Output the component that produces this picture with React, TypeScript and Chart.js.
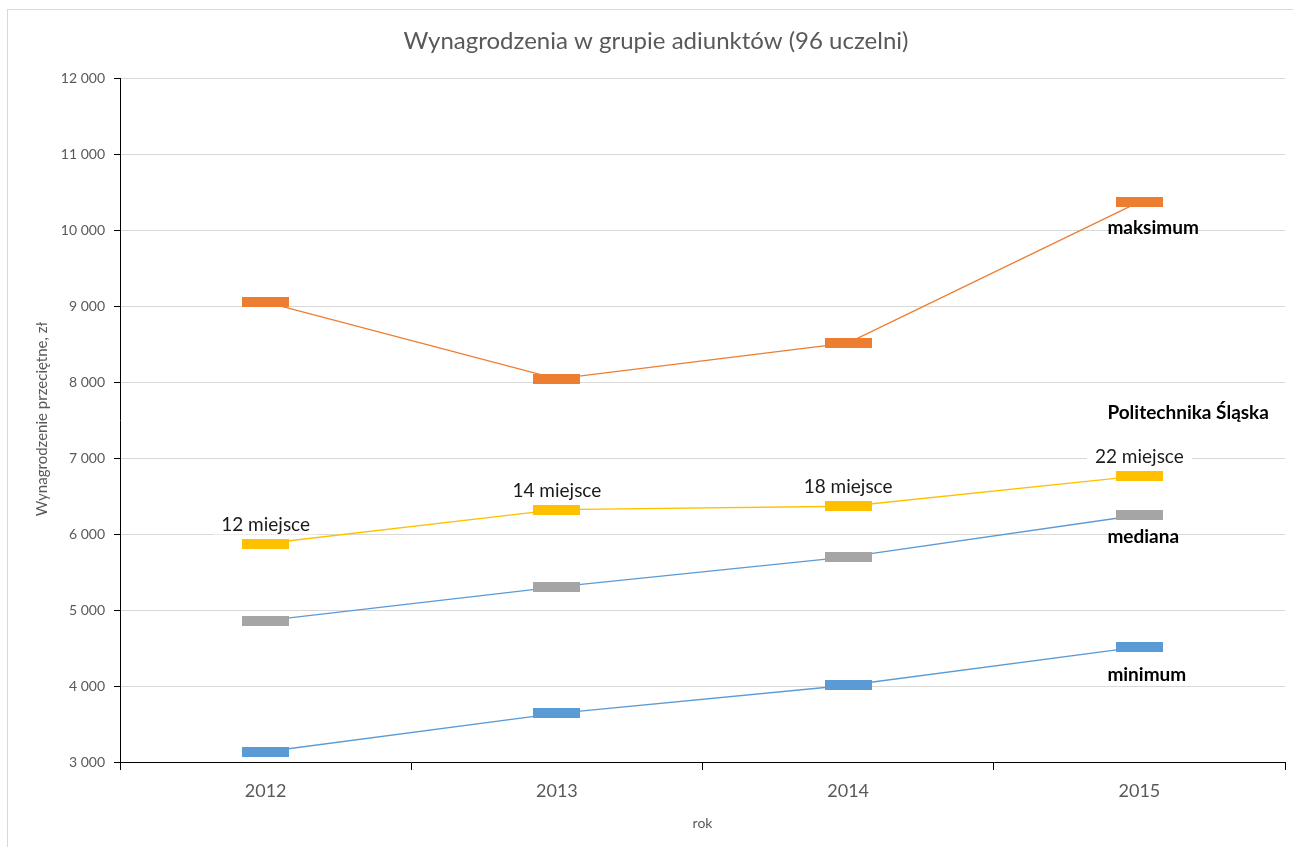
import React, { useEffect, useRef } from "react";
import { Chart, registerables } from "chart.js";

Chart.register(...registerables);

const years = ["2012", "2013", "2014", "2015"];
const maksimum = [9050, 8040, 8515, 10370];
const politechnika = [5875, 6320, 6365, 6765];
const mediana = [4860, 5305, 5700, 6250];
const minimum = [3135, 3640, 4010, 4515];
const rankLabels = ["12 miejsce", "14 miejsce", "18 miejsce", "22 miejsce"];
const seriesNames = ["maksimum", "Politechnika Śląska", "mediana", "minimum"];
const titleText = "Wynagrodzenia w grupie adiunktów (96 uczelni)";
const yTitle = "Wynagrodzenie przeciętne, zł";
const xTitle = "rok";
const yMin = 3000;
const yMax = 12000;
const yStep = 1000;

const FONT = "Lato, 'Open Sans', sans-serif";

function makeMarker(color: string): HTMLCanvasElement {
  const c = document.createElement("canvas");
  c.width = 47;
  c.height = 10;
  const ctx = c.getContext("2d")!;
  ctx.fillStyle = color;
  ctx.fillRect(0, 0, 47, 10);
  return c;
}

const annotationPlugin = {
  id: "annotations",
  beforeDraw(chart: any) {
    const ctx = chart.ctx;
    ctx.save();
    ctx.fillStyle = "#ffffff";
    ctx.fillRect(0, 0, chart.width, chart.height);
    ctx.strokeStyle = "#D9D9D9";
    ctx.lineWidth = 1;
    ctx.strokeRect(7.5, 9.5, 1300, 850);
    ctx.restore();
  },
  afterDraw(chart: any) {
    const ctx = chart.ctx;
    const xs = chart.scales.x;
    const ys = chart.scales.y;
    const area = chart.chartArea;
    ctx.save();
    // title
    ctx.fillStyle = "#595959";
    ctx.font = `24px ${FONT}`;
    ctx.textAlign = "center";
    ctx.textBaseline = "middle";
    ctx.fillText(titleText, 656, 41);
    // axis titles
    ctx.font = `14px ${FONT}`;
    ctx.fillStyle = "#595959";
    ctx.fillText(xTitle, (area.left + area.right) / 2, 823);
    ctx.save();
    ctx.font = `15px ${FONT}`;
    ctx.translate(42, 419);
    ctx.rotate(-Math.PI / 2);
    ctx.fillText(yTitle, 0, 0);
    ctx.restore();

    // rank labels above Politechnika markers
    ctx.font = `19px ${FONT}`;
    politechnika.forEach((v, i) => {
      const x = xs.getPixelForValue(i);
      const y = ys.getPixelForValue(v) - 19;
      const w = ctx.measureText(rankLabels[i]).width;
      ctx.fillStyle = "#ffffff";
      ctx.fillRect(x - w / 2 - 8, y - 10, w + 16, 20);
      ctx.fillStyle = "#1a1a1a";
      ctx.fillText(rankLabels[i], x, y);
    });

    // series names next to 2015 point
    ctx.font = `bold 19px ${FONT}`;
    ctx.textAlign = "left";
    ctx.fillStyle = "#000000";
    const last = years.length - 1;
    const lx = xs.getPixelForValue(last) - 32;
    const series = [maksimum, politechnika, mediana, minimum];
    const offsets = [26, -63, 22, 28];
    series.forEach((s, i) => {
      const y = ys.getPixelForValue(s[last]) + offsets[i];
      ctx.fillText(seriesNames[i], lx, y);
    });
    ctx.restore();
  },
};

export default function App() {
  const ref = useRef<HTMLCanvasElement>(null);
  useEffect(() => {
    if (!ref.current) return;
    const mk = (label: string, data: number[], line: string, marker: string) => ({
      label,
      data,
      borderColor: line,
      backgroundColor: marker,
      borderWidth: 1.3,
      pointStyle: makeMarker(marker) as any,
      pointRadius: 5,
      pointHoverRadius: 5,
      tension: 0,
    });
    const chart = new Chart(ref.current, {
      type: "line",
      data: {
        labels: years,
        datasets: [
          mk(seriesNames[0], maksimum, "#ED7D31", "#ED7D31"),
          mk(seriesNames[1], politechnika, "#FFC000", "#FFC000"),
          mk(seriesNames[2], mediana, "#5B9BD5", "#A5A5A5"),
          mk(seriesNames[3], minimum, "#5B9BD5", "#5B9BD5"),
        ],
      },
      options: {
        animation: false,
        responsive: false,
        maintainAspectRatio: false,
        layout: { padding: { top: 78, right: 8, left: 0, bottom: 0 } },
        plugins: {
          legend: { display: false },
          title: { display: false },
          tooltip: { enabled: false },
        },
        scales: {
          x: {
            type: "category",
            offset: true,
            grid: {
              offset: true,
              drawOnChartArea: false,
              drawTicks: true,
              tickLength: 8,
              tickColor: "#000000",
            },
            border: { color: "#000000", width: 1 },
            ticks: {
              color: "#595959",
              font: { family: FONT, size: 18 },
              padding: 10,
            },
            afterFit: (s: any) => {
              s.height = 85;
            },
          },
          y: {
            min: yMin,
            max: yMax,
            grid: {
              color: "#D9D9D9",
              tickLength: 6,
              tickColor: "#000000",
              lineWidth: 1,
            },
            border: { color: "#000000", width: 1 },
            ticks: {
              stepSize: yStep,
              color: "#595959",
              font: { family: FONT, size: 14 },
              padding: 9,
              callback: (v: any) => {
                const n = Number(v);
                const s = String(n);
                return s.length > 3 ? s.slice(0, s.length - 3) + " " + s.slice(-3) : s;
              },
            },
            afterFit: (s: any) => {
              s.width = 120;
            },
          },
        },
      },
      plugins: [annotationPlugin],
    });
    return () => chart.destroy();
  }, []);
  return (
    <div style={{ position: "fixed", left: 0, top: 0, width: 1293, height: 847, background: "#fff" }}>
      <canvas ref={ref} width={1293} height={847} style={{ width: 1293, height: 847 }} />
    </div>
  );
}
